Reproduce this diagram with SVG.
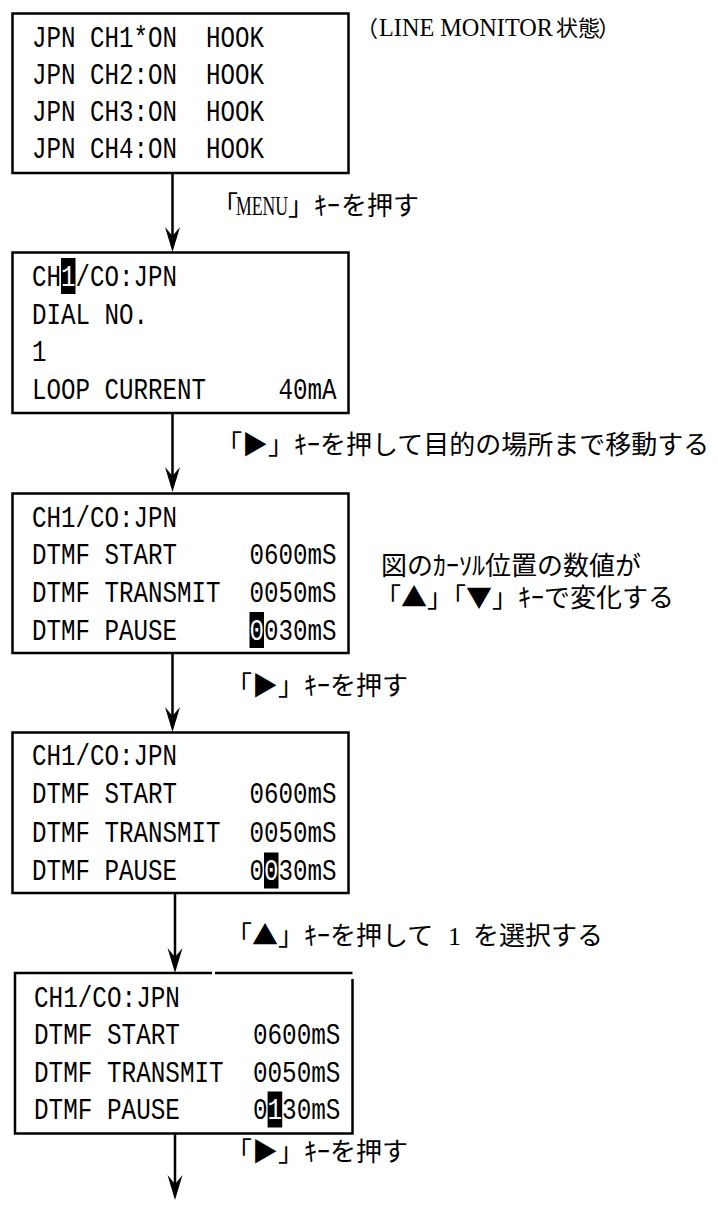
<svg xmlns="http://www.w3.org/2000/svg" width="718" height="1209" viewBox="0 0 718 1209">
<defs>
<style>
.box{fill:#fff;stroke:#000;stroke-width:2.5}
.edge{fill:none;stroke:#000;stroke-width:2.5}
.lcd{font-family:"Liberation Mono","DejaVu Sans Mono",monospace;font-size:29px;fill:#000;white-space:pre}
.inv{fill:#fff}
.cur{fill:#000}
.lbl{font-family:"Noto Sans CJK JP","Noto Sans CJK SC",sans-serif;font-size:26px;fill:#000;white-space:pre}
.lat{font-family:"Liberation Serif","Noto Sans CJK JP",serif}
.conn{stroke:#000;stroke-width:2.5;fill:none}
</style>
<marker id="ah" viewBox="0 -8 26 16" markerWidth="26" markerHeight="16" refX="15" refY="0" orient="auto" markerUnits="userSpaceOnUse">
<path d="M25,0 L0,-7.5 L9,0 L0,7.5 Z" fill="#000"/>
</marker>
</defs>
<rect width="718" height="1209" fill="#fff"/>

<g id="connectors">
<path class="conn" d="M172.5,173 V242" marker-end="url(#ah)"/>
<path class="conn" d="M172.5,413 V482" marker-end="url(#ah)"/>
<path class="conn" d="M172.5,653 V722" marker-end="url(#ah)"/>
<path class="conn" d="M175,893 V963" marker-end="url(#ah)"/>
<path class="conn" d="M175,1133 V1190" marker-end="url(#ah)"/>
</g>

<g id="screen1">
<rect class="box" x="12.5" y="13.5" width="336" height="159.5"/>
<g transform="translate(32,0) scale(0.83333,1)">
<text class="lcd" xml:space="preserve" x="0" y="47">JPN CH1*ON  HOOK</text>
<text class="lcd" xml:space="preserve" x="0" y="84">JPN CH2:ON  HOOK</text>
<text class="lcd" xml:space="preserve" x="0" y="121">JPN CH3:ON  HOOK</text>
<text class="lcd" xml:space="preserve" x="0" y="158">JPN CH4:ON  HOOK</text>
</g>
</g>

<g id="screen2">
<rect class="box" x="12.5" y="252.5" width="336" height="160.5"/>
<rect class="cur" x="61" y="258" width="14.5" height="36"/>
<g transform="translate(32,0) scale(0.83333,1)">
<text class="lcd" xml:space="preserve" x="0" y="286">CH<tspan class="inv">1</tspan>/CO:JPN</text>
<text class="lcd" xml:space="preserve" x="0" y="324">DIAL NO.</text>
<text class="lcd" x="0" y="361.5">1</text>
<text class="lcd" xml:space="preserve" x="0" y="399.5">LOOP CURRENT     40mA</text>
</g>
</g>

<g id="screen3">
<rect class="box" x="12.5" y="493.5" width="336" height="159.5"/>
<rect class="cur" x="249.5" y="612" width="14.5" height="36"/>
<g transform="translate(32,0) scale(0.83333,1)">
<text class="lcd" xml:space="preserve" x="0" y="527">CH1/CO:JPN</text>
<text class="lcd" xml:space="preserve" x="0" y="564.5">DTMF START     0600mS</text>
<text class="lcd" xml:space="preserve" x="0" y="602.5">DTMF TRANSMIT  0050mS</text>
<text class="lcd" xml:space="preserve" x="0" y="640">DTMF PAUSE     <tspan class="inv">0</tspan>030mS</text>
</g>
</g>

<g id="screen4">
<rect class="box" x="12.5" y="732.5" width="336" height="160.5"/>
<rect class="cur" x="264" y="852.5" width="14.5" height="36"/>
<g transform="translate(32,0) scale(0.83333,1)">
<text class="lcd" xml:space="preserve" x="0" y="765">CH1/CO:JPN</text>
<text class="lcd" xml:space="preserve" x="0" y="803.5">DTMF START     0600mS</text>
<text class="lcd" xml:space="preserve" x="0" y="842">DTMF TRANSMIT  0050mS</text>
<text class="lcd" xml:space="preserve" x="0" y="880.5">DTMF PAUSE     0<tspan class="inv">0</tspan>30mS</text>
</g>
</g>

<g id="screen5">
<path class="edge" d="M352.5,979 V1133.5 H15 V973 H212 M215,973 H352.5"/>
<rect class="cur" x="267.6" y="1091.5" width="14.6" height="36"/>
<g transform="translate(34,0) scale(0.83908,1)">
<text class="lcd" xml:space="preserve" x="0" y="1007">CH1/CO:JPN</text>
<text class="lcd" xml:space="preserve" x="0" y="1044">DTMF START     0600mS</text>
<text class="lcd" xml:space="preserve" x="0" y="1082">DTMF TRANSMIT  0050mS</text>
<text class="lcd" xml:space="preserve" x="0" y="1119.5">DTMF PAUSE     0<tspan class="inv">1</tspan>30mS</text>
</g>
</g>

<g id="labels">
<text class="lbl" style="font-size:22px" x="356" y="35.5">（<tspan class="lat" style="font-size:25px" x="379" textLength="174" lengthAdjust="spacingAndGlyphs">LINE MONITOR</tspan><tspan x="556">状態</tspan><tspan x="598">）</tspan></text>
<text class="lbl" x="212" y="214.5">「<tspan class="lat" style="font-size:28px" x="236" textLength="52" lengthAdjust="spacingAndGlyphs">MENU</tspan><tspan x="288">」ｷｰ</tspan><tspan x="341">を押す</tspan></text>
<text class="lbl" x="216" y="454">「▶」ｷｰを押して目的の場所まで移動する</text>
<text class="lbl" x="381" y="575">図のｶｰｿﾙ位置の数値が<tspan x="375" y="607">「▲」「▼」ｷｰで変化する</tspan></text>
<text class="lbl" x="226" y="695">「▶」ｷｰを押す</text>
<text class="lbl" x="226" y="945">「▲」ｷｰを押して<tspan class="lat" x="448">1</tspan><tspan x="473">を選択する</tspan></text>
<text class="lbl" x="226" y="1161">「▶」ｷｰを押す</text>
</g>
</svg>
